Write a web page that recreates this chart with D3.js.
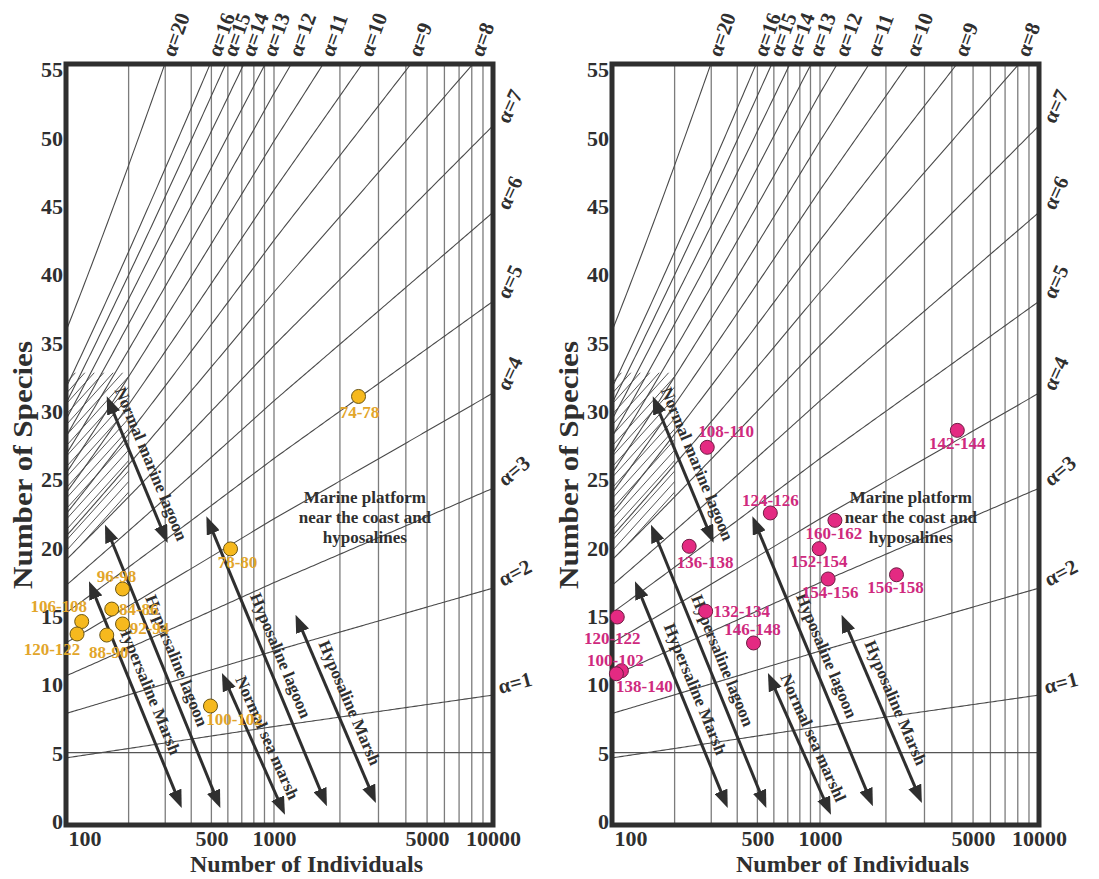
<!DOCTYPE html>
<html>
<head>
<meta charset="utf-8">
<script src="https://cdn.jsdelivr.net/npm/d3@7/dist/d3.min.js"></script>
<style>
  body { margin: 0; background: #fff; }
  svg text { font-family: "Liberation Serif", "Times New Roman", serif; font-weight: bold; }
</style>
</head>
<body>
<svg id="chart" width="1099" height="879"></svg>
<script>
// axis values
var xTicks = [100, 500, 1000, 5000, 10000];
var yTicks = [0, 5, 10, 15, 20, 25, 30, 35, 40, 45, 50, 55];
var gridN = [200, 300, 400, 500, 600, 700, 800, 900, 1000, 2000, 3000, 4000, 5000, 6000, 7000, 8000, 9000];
var gridS = [5];

// Fisher alpha isolines drawn on the diagram
var alphas = [1, 2, 3, 4, 5, 6, 7, 8, 9, 10, 11, 12, 13, 14, 15, 16, 20];

// samples, left panel (N individuals, S species)
var leftNames = ["74-78", "78-80", "96-98", "84-86", "92-94", "88-90", "106-108", "120-122", "100-102"];
var leftN = [2432, 618, 187, 166, 187, 157, 119, 113, 495];
var leftS = [31.05, 19.9, 16.97, 15.5, 14.41, 13.6, 14.59, 13.68, 8.41];

// samples, right panel
var rightNames = ["108-110", "142-144", "124-126", "160-162", "136-138", "152-154", "154-156",
                  "156-158", "132-134", "120-122", "146-148", "100-102", "138-140"];
var rightN = [287, 4236, 577, 1170, 235, 991, 1089, 2235, 282, 106, 479, 111, 105];
var rightS = [27.33, 28.57, 22.53, 21.99, 20.09, 19.92, 17.7, 18.01, 15.34, 14.92, 13.02, 10.99, 10.77];

// environment arrows (upper end -> lower end)
var zoneLeft = ["Normal marine lagoon", "Hypersaline Marsh", "Hypersaline lagoon",
                "Hyposaline lagoon", "Normal sea marsh", "Hyposaline Marsh"];
var zoneRight = ["Normal marine lagoon", "Hypersaline Marsh", "Hypersaline lagoon",
                 "Hyposaline lagoon", "Normal sea marshl", "Hyposaline Marsh"];
var zoneN1 = [157, 129, 154, 473, 562, 1254];
var zoneS1 = [31.06, 17.53, 21.67, 22.28, 10.82, 15.09];
var zoneN2 = [308, 360, 552, 1744, 1122, 2918];
var zoneS2 = [20.33, 0.95, 0.95, 1.08, 0.46, 1.32];

var platformLines = ["Marine platform", "near the coast and", "hyposalines"];
var platformN = 2600, platformS = 22.2;

// label placement (pixel offsets of the label centre from its point)
var labelOffset = {
  "L74-78": [1, 16], "L78-80": [7, 14], "L96-98": [-6, -12], "L84-86": [27, 0],
  "L92-94": [27, 5], "L88-90": [2, 17], "L106-108": [-23, -15], "L120-122": [-25, 16],
  "L100-102": [24, 13],
  "R108-110": [19, -16], "R142-144": [0, 13], "R124-126": [0, -12], "R160-162": [-1, 13],
  "R136-138": [16, 16], "R152-154": [0, 13], "R154-156": [2, 14], "R156-158": [-1, 13],
  "R132-134": [36, 0], "R120-122": [-5, 21], "R146-148": [-1, -13], "R100-102": [-6, -10],
  "R138-140": [28, 13]
};
var rightLabelRot = {1: -15, 2: -28, 3: -40, 4: -65, 5: -65, 6: -65, 7: -65};

var panels = [
  {id: "L", x0: 66, names: leftNames, n: leftN, s: leftS, zones: zoneLeft,
   fill: "#f6b91e", stroke: "#6b5512", text: "#e2a52a"},
  {id: "R", x0: 612, names: rightNames, n: rightN, s: rightS, zones: zoneRight,
   fill: "#e42a82", stroke: "#6e1c43", text: "#cf2a7e"}
];

var svg = d3.select("#chart");
var W = 427, frameTop = 64, frameBot = 825, ink = "#2f2f2f";

var defs = svg.append("defs");
defs.append("marker")
  .attr("id", "head")
  .attr("viewBox", "0 0 18 14")
  .attr("markerUnits", "userSpaceOnUse")
  .attr("markerWidth", 18).attr("markerHeight", 14)
  .attr("refX", 9).attr("refY", 7)
  .attr("orient", "auto-start-reverse")
  .append("path").attr("d", "M0,0L18,7L0,14Z").attr("fill", ink);

function fisher(a, n) { return a * Math.log(1 + n / a); }

panels.forEach(drawPanel);

function drawPanel(p) {
  var x = d3.scaleLog().domain([100, 1000, 10000]).range([p.x0, p.x0 + 208, p.x0 + W]);
  var y = d3.scaleLinear().domain([0, 55]).range([821, 69]);
  var g = svg.append("g");

  defs.append("clipPath").attr("id", "clip" + p.id)
    .append("rect").attr("x", p.x0).attr("y", frameTop).attr("width", W).attr("height", frameBot - frameTop);
  var plot = g.append("g").attr("clip-path", "url(#clip" + p.id + ")");

  plot.selectAll("line.vg").data(gridN).enter().append("line")
    .attr("class", "vg")
    .attr("x1", function(d) { return x(d); }).attr("x2", function(d) { return x(d); })
    .attr("y1", frameTop).attr("y2", frameBot)
    .attr("stroke", "#7c7c7c").attr("stroke-width", 1.3);
  plot.selectAll("line.hg").data(gridS).enter().append("line")
    .attr("class", "hg")
    .attr("x1", p.x0).attr("x2", p.x0 + W)
    .attr("y1", function(d) { return y(d); }).attr("y2", function(d) { return y(d); })
    .attr("stroke", "#555").attr("stroke-width", 1.2);

  // hatching near the left edge
  defs.append("clipPath").attr("id", "hatch" + p.id)
    .append("path")
    .attr("d", function() {
      var pts = [];
      d3.range(100, 201, 5).forEach(function(n) { pts.push([x(n), y(fisher(7, n))]); });
      pts.push([x(200), y(fisher(17, 100))]);
      pts.push([x(100), y(fisher(17, 100))]);
      return "M" + pts.join("L") + "Z";
    });
  var hatch = plot.append("g").attr("clip-path", "url(#hatch" + p.id + ")");
  d3.range(0, 40).forEach(function(i) {
    var yy = y(fisher(17, 100)) + i * 10.5;
    hatch.append("line")
      .attr("x1", p.x0).attr("y1", yy)
      .attr("x2", p.x0 + 200).attr("y2", yy - 200 * Math.tan(48 * Math.PI / 180))
      .attr("stroke", "#555").attr("stroke-width", 1);
  });

  var line = d3.line().x(function(d) { return x(d[0]); }).y(function(d) { return y(d[1]); });
  var ns = d3.range(0, 201).map(function(i) { return Math.pow(10, 2 + i / 100); });
  plot.selectAll("path.alpha").data(alphas).enter().append("path")
    .attr("class", "alpha")
    .attr("d", function(a) { return line(ns.map(function(n) { return [n, fisher(a, n)]; })); })
    .attr("fill", "none").attr("stroke", "#4a4a4a").attr("stroke-width", 1.1);

  // alpha labels
  var sTop = y.invert(frameTop);
  alphas.forEach(function(a) {
    var sEnd = fisher(a, 10000), tx, ty, rot;
    if (sEnd > sTop) {
      tx = x(a * (Math.exp(sTop / a) - 1)) + 10; ty = frameTop - 6; rot = -70;
    } else {
      rot = rightLabelRot[a];
      tx = p.x0 + W + 4 + 13 * Math.sin(-rot * Math.PI / 180); ty = y(sEnd) - 1;
    }
    g.append("text")
      .attr("transform", "translate(" + tx + "," + ty + ") rotate(" + rot + ")")
      .attr("font-size", 21).attr("fill", ink)
      .text("\u03b1=" + a);
  });

  // frame
  g.append("rect").attr("x", p.x0).attr("y", frameTop).attr("width", W).attr("height", frameBot - frameTop)
    .attr("fill", "none").attr("stroke", ink).attr("stroke-width", 5);

  // axes
  var xa = g.append("g").attr("transform", "translate(0," + (frameBot + 18) + ")")
    .call(d3.axisBottom(x).tickValues(xTicks).tickSize(0).tickFormat(d3.format("d")));
  xa.select(".domain").remove();
  xa.selectAll("text").attr("font-size", 22).attr("fill", ink).attr("dy", 0)
    .attr("text-anchor", function(d) { return d === 100 ? "start" : "middle"; })
    .attr("dx", function(d) { return d === 100 ? 2 : 0; });

  var ya = g.append("g").attr("transform", "translate(" + (p.x0 - 3) + ",0)")
    .call(d3.axisLeft(y).tickValues(yTicks).tickSize(0).tickPadding(0));
  ya.select(".domain").remove();
  ya.selectAll("text").attr("font-size", 22).attr("fill", ink).attr("dy", "0.35em");

  g.append("text")
    .attr("transform", "translate(" + (p.x0 - 34) + "," + 465 + ") rotate(-90)")
    .attr("text-anchor", "middle").attr("font-size", 27).attr("fill", ink)
    .attr("textLength", 248).attr("lengthAdjust", "spacingAndGlyphs")
    .text("Number of Species");
  g.append("text")
    .attr("x", p.x0 + W / 2 + 27).attr("y", 872)
    .attr("text-anchor", "middle").attr("font-size", 24).attr("fill", ink)
    .text("Number of Individuals");

  // environment arrows
  zoneN1.forEach(function(n1, i) {
    var ax = x(n1), ay = y(zoneS1[i]), bx = x(zoneN2[i]), by = y(zoneS2[i]);
    var len = Math.hypot(bx - ax, by - ay), ux = (bx - ax) / len, uy = (by - ay) / len;
    g.append("line")
      .attr("x1", ax + ux * 9).attr("y1", ay + uy * 9)
      .attr("x2", bx - ux * 9).attr("y2", by - uy * 9)
      .attr("stroke", ink).attr("stroke-width", 3)
      .attr("marker-start", "url(#head)").attr("marker-end", "url(#head)");
    var mx = (ax + bx) / 2 + uy * 15, my = (ay + by) / 2 - ux * 15;
    g.append("text")
      .attr("transform", "translate(" + mx + "," + my + ") rotate(" + (Math.atan2(uy, ux) * 180 / Math.PI) + ")")
      .attr("text-anchor", "middle").attr("dominant-baseline", "central")
      .attr("font-size", 17).attr("fill", ink)
      .text(p.zones[i]);
  });

  var pt = g.append("text").attr("text-anchor", "middle").attr("font-size", 17).attr("fill", ink);
  platformLines.forEach(function(t, i) {
    pt.append("tspan").attr("x", x(platformN)).attr("y", y(platformS) + (i - 1) * 20 + 6).text(t);
  });

  // samples
  var pts = g.selectAll("g.sample").data(p.names).enter().append("g").attr("class", "sample");
  pts.append("circle")
    .attr("cx", function(d, i) { return x(p.n[i]); })
    .attr("cy", function(d, i) { return y(p.s[i]); })
    .attr("r", 7).attr("fill", p.fill).attr("stroke", p.stroke).attr("stroke-width", 1);
  pts.append("text")
    .attr("x", function(d, i) { return x(p.n[i]) + labelOffset[p.id + d][0]; })
    .attr("y", function(d, i) { return y(p.s[i]) + labelOffset[p.id + d][1]; })
    .attr("text-anchor", "middle").attr("dominant-baseline", "central")
    .attr("font-size", 17).attr("fill", p.text)
    .text(function(d) { return d; });
}
</script>
</body>
</html>
